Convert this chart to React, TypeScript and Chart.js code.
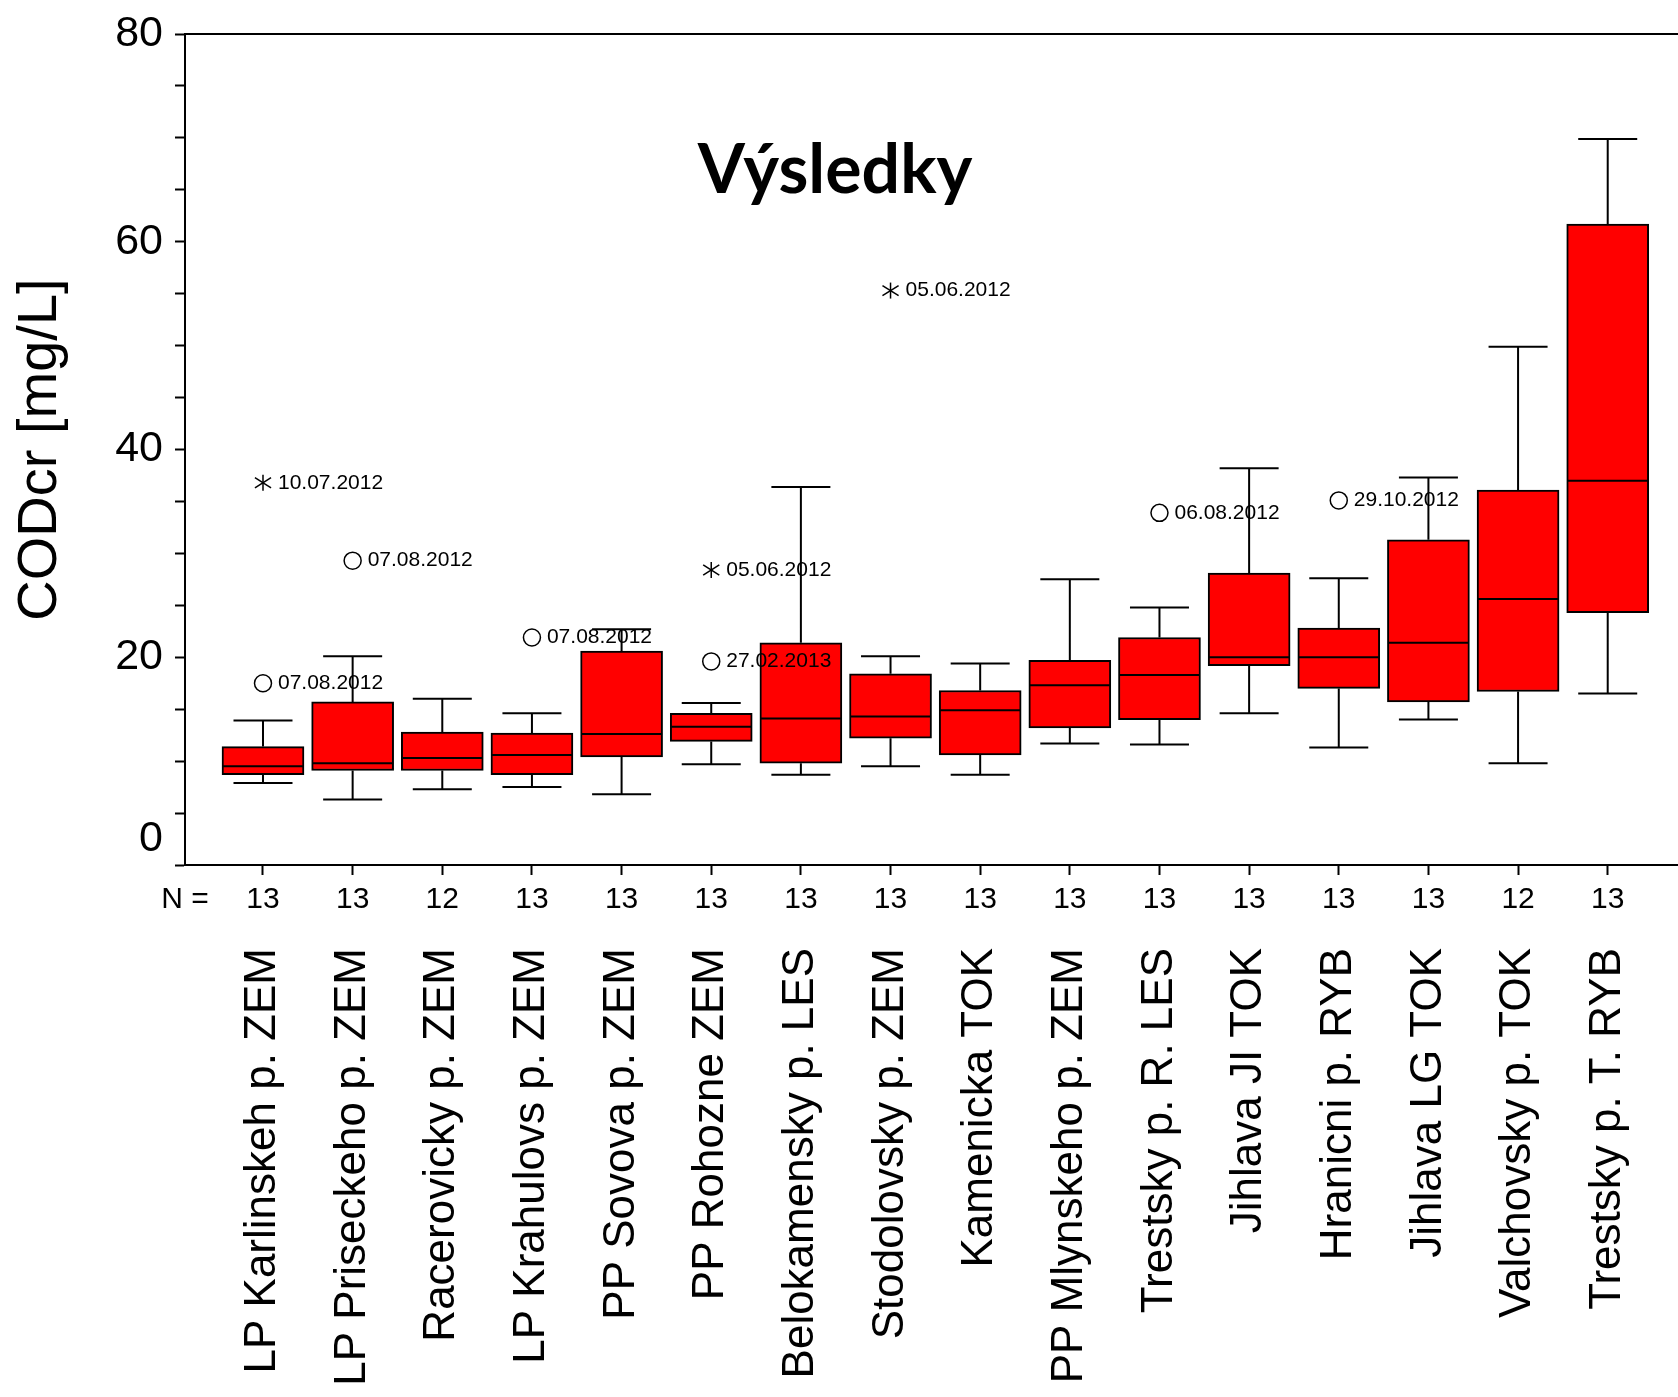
import React, { useEffect, useRef } from 'react';
import { Chart, registerables } from 'chart.js';

Chart.register(...registerables);

const FONT = "'Liberation Sans', Arial, Helvetica, sans-serif";

// ---- data ----
const categories = [
  'LP Karlinskeh p. ZEM',
  'LP Priseckeho p. ZEM',
  'Racerovicky p. ZEM',
  'LP Krahulovs p. ZEM',
  'PP Sovova p. ZEM',
  'PP Rohozne ZEM',
  'Belokamensky p. LES',
  'Stodolovsky p. ZEM',
  'Kamenicka TOK',
  'PP Mlynskeho p. ZEM',
  'Trestsky p. R. LES',
  'Jihlava JI TOK',
  'Hranicni p. RYB',
  'Jihlava LG TOK',
  'Valchovsky p. TOK',
  'Trestsky p. T. RYB',
];
const nCounts = [13, 13, 12, 13, 13, 13, 13, 13, 13, 13, 13, 13, 13, 13, 12, 13];
const whiskerLow = [7.9, 6.3, 7.3, 7.5, 6.8, 9.7, 8.7, 9.5, 8.7, 11.7, 11.6, 14.6, 11.3, 14.0, 9.8, 16.5];
const q1 = [8.7, 9.1, 9.1, 8.7, 10.4, 11.9, 9.8, 12.2, 10.6, 13.2, 14.0, 19.2, 17.0, 15.7, 16.7, 24.3];
const median = [9.5, 9.8, 10.3, 10.6, 12.6, 13.3, 14.1, 14.3, 14.9, 17.3, 18.3, 20.0, 20.0, 21.4, 25.6, 37.0];
const q3 = [11.4, 15.7, 12.8, 12.7, 20.6, 14.6, 21.4, 18.4, 16.8, 19.7, 21.9, 28.1, 22.8, 31.3, 36.1, 61.7];
const whiskerHigh = [13.9, 20.1, 16.0, 14.6, 22.7, 15.6, 36.4, 20.1, 19.4, 27.5, 24.8, 38.2, 27.6, 37.3, 49.9, 69.9];

const outlierIndex = [0, 0, 1, 3, 5, 5, 7, 10, 12];
const outlierValue = [36.8, 17.5, 29.3, 21.9, 28.4, 19.6, 55.3, 33.9, 35.1];
const outlierKind = ['extreme', 'outlier', 'outlier', 'outlier', 'extreme', 'outlier', 'extreme', 'outlier', 'outlier'];
const outlierLabel = ['10.07.2012', '07.08.2012', '07.08.2012', '07.08.2012', '05.06.2012', '27.02.2013', '05.06.2012', '06.08.2012', '29.10.2012'];

const yTickValues = [0, 5, 10, 15, 20, 25, 30, 35, 40, 45, 50, 55, 60, 65, 70, 75, 80];
const yLabelValues = [0, 20, 40, 60, 80];

const chartTitle = 'Výsledky';
const yAxisTitle = 'CODcr [mg/L]';
const nPrefix = 'N =';

const X_MIN = -0.87;
const X_MAX = 15.784;

export default function App() {
  const ref = useRef<HTMLCanvasElement>(null);

  useEffect(() => {
    document.body.style.margin = '0';
    const canvas = ref.current;
    if (!canvas) return;

    const idx = categories.map((_, i) => i);

    const stemData: any[] = [];
    idx.forEach((i) => {
      stemData.push(
        { x: i, y: whiskerLow[i] },
        { x: i, y: q1[i] },
        { x: i, y: null },
        { x: i, y: q3[i] },
        { x: i, y: whiskerHigh[i] },
        { x: i, y: null }
      );
    });
    const capData: any[] = [];
    idx.forEach((i) => {
      capData.push({ x: i, y: whiskerLow[i] }, { x: i, y: whiskerHigh[i] });
    });
    const circles = outlierIndex
      .map((c, k) => ({ x: c, y: outlierValue[k], kind: outlierKind[k] }))
      .filter((p) => p.kind === 'outlier')
      .map((p) => ({ x: p.x, y: p.y }));
    const stars = outlierIndex
      .map((c, k) => ({ x: c, y: outlierValue[k], kind: outlierKind[k] }))
      .filter((p) => p.kind === 'extreme')
      .map((p) => ({ x: p.x, y: p.y }));

    const starDs = (rot: number, r: number) => ({
      type: 'scatter',
      data: stars,
      pointStyle: 'line',
      pointRadius: r,
      pointHoverRadius: r,
      pointRotation: rot,
      pointBorderColor: '#000',
      pointBorderWidth: 1.5,
      order: 0,
    });

    const labelPlugin = {
      id: 'extraText',
      afterDatasetsDraw(chart: any) {
        const { ctx, scales } = chart;
        ctx.save();
        ctx.fillStyle = '#000';
        ctx.font = `21px ${FONT}`;
        ctx.textBaseline = 'middle';
        ctx.textAlign = 'left';
        outlierIndex.forEach((c, k) => {
          const px = scales.x.getPixelForValue(c);
          const py = scales.y.getPixelForValue(outlierValue[k]);
          ctx.fillText(outlierLabel[k], px + 15, py);
        });
        ctx.font = `bold 68px Lato, ${FONT}`;
        ctx.textAlign = 'center';
        ctx.textBaseline = 'alphabetic';
        ctx.fillText(chartTitle, 835, 193);
        ctx.restore();
      },
    };

    const zeroPad = (s: any) => {
      s.paddingLeft = 0;
      s.paddingRight = 0;
      s.paddingTop = 0;
      s.paddingBottom = 0;
    };

    const chart = new Chart(canvas, {
      type: 'bar',
      data: {
        datasets: [
          {
            type: 'line',
            data: stemData,
            borderColor: '#000',
            borderWidth: 2,
            pointRadius: 0,
            pointHoverRadius: 0,
            spanGaps: false,
            fill: false,
            order: 5,
          } as any,
          {
            type: 'bar',
            data: idx.map((i) => ({ x: i, y: [q1[i], q3[i]] })),
            backgroundColor: '#ff0000',
            borderColor: '#000',
            borderWidth: 2,
            borderSkipped: false,
            barThickness: 82,
            grouped: false,
            order: 4,
          } as any,
          {
            type: 'scatter',
            data: idx.map((i) => ({ x: i, y: median[i] })),
            pointStyle: 'line',
            pointRadius: 40.5,
            pointHoverRadius: 40.5,
            pointBorderColor: '#000',
            pointBorderWidth: 2,
            order: 1,
          } as any,
          {
            type: 'scatter',
            data: capData,
            pointStyle: 'line',
            pointRadius: 29.5,
            pointHoverRadius: 29.5,
            pointBorderColor: '#000',
            pointBorderWidth: 2,
            order: 1,
          } as any,
          {
            type: 'scatter',
            data: circles,
            pointStyle: 'circle',
            pointRadius: 8.5,
            pointHoverRadius: 8.5,
            pointBackgroundColor: '#fff',
            pointBorderColor: '#000',
            pointBorderWidth: 1.5,
            order: 0,
          } as any,
          starDs(32, 9.5) as any,
          starDs(148, 9.5) as any,
          starDs(90, 8) as any,
        ],
      },
      options: {
        animation: false,
        responsive: false,
        devicePixelRatio: 1,
        events: [],
        layout: { autoPadding: false, padding: { top: 34, left: 0, right: 0, bottom: 0 } },
        plugins: {
          legend: { display: false },
          tooltip: { enabled: false },
          title: { display: false },
        },
        scales: {
          x: {
            type: 'linear',
            position: 'bottom',
            min: X_MIN,
            max: X_MAX,
            offset: false,
            bounds: 'data',
            weight: 0,
            afterBuildTicks: (s: any) => {
              s.ticks = [{ value: X_MIN }, ...idx.map((i) => ({ value: i }))];
            },
            ticks: {
              autoSkip: false,
              maxRotation: 0,
              minRotation: 0,
              padding: 7,
              color: '#000',
              font: { family: FONT, size: 30 },
              callback: (_v: any, i: number) => (i === 0 ? nPrefix : String(nCounts[i - 1])),
            },
            grid: {
              offset: false,
              drawOnChartArea: false,
              drawTicks: true,
              tickLength: 10,
              tickWidth: 2,
              tickColor: (c: any) => (c.index === 0 ? 'rgba(0,0,0,0)' : '#000'),
            },
            border: { display: true, color: '#000', width: 2 },
            afterFit: (s: any) => {
              s.height = 52;
              zeroPad(s);
            },
          },
          x2: {
            type: 'linear',
            position: 'bottom',
            min: X_MIN,
            max: X_MAX,
            offset: false,
            bounds: 'data',
            weight: 1,
            afterBuildTicks: (s: any) => {
              s.ticks = idx.map((i) => ({ value: i }));
            },
            ticks: {
              autoSkip: false,
              maxRotation: 90,
              minRotation: 90,
              padding: 31,
              color: '#000',
              font: { family: FONT, size: 44 },
              callback: (_v: any, i: number) => categories[i],
            },
            grid: { display: false, drawTicks: false, offset: false },
            border: { display: false },
            afterFit: (s: any) => {
              s.height = 480;
              zeroPad(s);
            },
          },
          xTop: {
            type: 'linear',
            position: 'top',
            min: X_MIN,
            max: X_MAX,
            offset: false,
            ticks: { display: false },
            grid: { display: false, drawTicks: false, offset: false },
            border: { display: true, color: '#000', width: 2 },
            afterFit: (s: any) => {
              s.height = 0;
              zeroPad(s);
            },
          },
          y: {
            type: 'linear',
            position: 'left',
            min: 0,
            max: 80,
            afterBuildTicks: (s: any) => {
              s.ticks = yTickValues.map((v) => ({ value: v }));
            },
            ticks: {
              autoSkip: false,
              padding: 12,
              color: '#000',
              font: { family: FONT, size: 43 },
              callback: (v: any) => {
                if (!yLabelValues.includes(v)) return '';
                return v === 0 ? ['0', ''] : String(v);
              },
            },
            grid: {
              drawOnChartArea: false,
              drawTicks: true,
              tickLength: 10,
              tickWidth: 2,
              tickColor: '#000',
            },
            border: { display: true, color: '#000', width: 2 },
            title: {
              display: true,
              text: yAxisTitle,
              color: '#000',
              font: { family: FONT, size: 56 },
              padding: { top: 7, bottom: 0 },
            },
            afterFit: (s: any) => {
              s.width = 185;
              zeroPad(s);
            },
          },
        },
      } as any,
      plugins: [labelPlugin],
    });

    return () => {
      chart.destroy();
    };
  }, []);

  return (
    <div style={{ width: 1678, height: 1397 }}>
      <canvas ref={ref} width={1678} height={1397} style={{ display: 'block' }} />
    </div>
  );
}
